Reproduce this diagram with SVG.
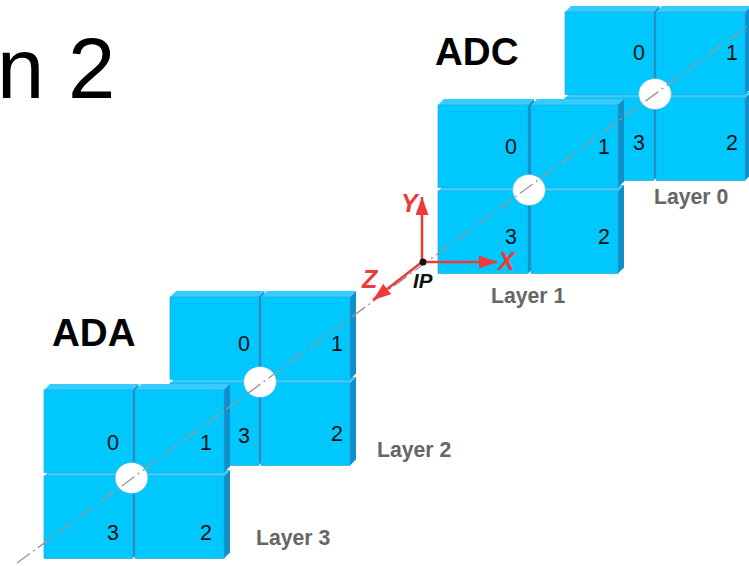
<svg xmlns="http://www.w3.org/2000/svg" xmlns:xlink="http://www.w3.org/1999/xlink" width="749" height="566" viewBox="0 0 749 566">
<style>
text{font-family:"Liberation Sans",Arial,sans-serif}
.front{fill:#00c8ff;stroke:#2aa6dc;stroke-width:.7}
.top{fill:#35ccff}
.side{fill:#1090c8}
.hole{fill:#fff;stroke:#1ba2dc;stroke-width:.5}
.n{font-size:21.500px;fill:#111;text-anchor:middle}
.lay{font-size:21.200px;font-weight:bold;fill:#666}
.big{font-size:38.600px;font-weight:bold;fill:#000}
.ax{font-size:25px;font-weight:bold;font-style:italic;fill:#ee3a3a}
.axl{stroke:#ee3a3a;stroke-width:2.500;fill:none}
.beam{stroke:#999;stroke-width:1.400;stroke-dasharray:16 4 2 4;fill:none}
</style>
<defs>
<g id="mL"><path class="top" d="M0 0L6-6H96L90 0Z"/><path class="side" d="M90 0L96-6V76.500L90 82.500Z"/><rect class="front" width="90" height="82.500"/></g>
<g id="mR"><path class="top" d="M0 0L6-6H93L87 0Z"/><path class="side" d="M87 0L93-6V76.500L87 82.500Z"/><rect class="front" width="87" height="82.500"/></g>
<g id="mL2"><path class="top" d="M0 0L6-6H94.500L88.500 0Z"/><path class="side" d="M88.500 0L94.500-6V76.500L88.500 82.500Z"/><rect class="front" width="88.500" height="82.500"/></g>
<g id="mR2"><path class="top" d="M0 0L6-6H95L89 0Z"/><path class="side" d="M89 0L95-6V76.500L89 82.500Z"/><rect class="front" width="89" height="82.500"/></g>
<g id="plane">
<use xlink:href="#mL" x="0" y="86"/><use xlink:href="#mR" x="93" y="86"/>
<use xlink:href="#mL" x="0" y="0"/><use xlink:href="#mR" x="93" y="0"/>
</g>
<g id="plane2">
<use xlink:href="#mL2" x="0" y="86"/><use xlink:href="#mR2" x="91" y="86"/>
<use xlink:href="#mL2" x="0" y="0"/><use xlink:href="#mR2" x="91" y="0"/>
</g>
<marker id="ah" markerUnits="userSpaceOnUse" markerWidth="19" markerHeight="13" refX="18" refY="6.500" orient="auto"><path d="M0 0L18 6.500L0 13Z" fill="#ee3a3a"/></marker>
</defs>
<text x="-3" y="98" font-size="85" fill="#000">n 2</text>
<g id="layer0"><use xlink:href="#plane2" x="565" y="12"/><ellipse class="hole" cx="655" cy="94" rx="16.500" ry="15.500"/>
<text class="n" x="639" y="60">0</text><text class="n" x="732" y="60">1</text><text class="n" x="732" y="150">2</text><text class="n" x="639" y="150">3</text><text class="lay" x="654" y="204">Layer 0</text></g>
<g id="layer1"><use xlink:href="#plane" x="438" y="105"/><ellipse class="hole" cx="529" cy="190" rx="16.500" ry="15.500"/>
<text class="n" x="511" y="154">0</text><text class="n" x="604" y="154">1</text><text class="n" x="604" y="244">2</text><text class="n" x="511" y="244">3</text><text class="lay" x="491" y="303">Layer 1</text></g>
<g id="layer2"><use xlink:href="#plane2" x="170" y="297"/><ellipse class="hole" cx="260" cy="382" rx="16.500" ry="15.500"/>
<text class="n" x="244" y="351">0</text><text class="n" x="337" y="351">1</text><text class="n" x="337" y="441">2</text><text class="n" x="244" y="443">3</text><text class="lay" x="377" y="457">Layer 2</text></g>
<g id="layer3"><use xlink:href="#plane2" x="44" y="390"/><ellipse class="hole" cx="131.500" cy="478" rx="16.500" ry="15.500"/>
<text class="n" x="113" y="450">0</text><text class="n" x="206" y="450">1</text><text class="n" x="206" y="540">2</text><text class="n" x="113" y="540">3</text><text class="lay" x="256" y="545">Layer 3</text></g>
<text class="big" x="435" y="65">ADC</text>
<text class="big" x="52" y="346">ADA</text>
<g id="connectors">
<path class="beam" d="M17 563L749 25"/>
<path class="axl" d="M422 262V197" marker-end="url(#ah)"/>
<path class="axl" d="M422 262H497" marker-end="url(#ah)"/>
<path class="axl" d="M422 262L373 300" marker-end="url(#ah)"/>
</g>
<g id="ip"><circle cx="423" cy="262" r="3.500" fill="#111"/><text x="413" y="288" font-size="20.500" font-weight="bold" font-style="italic" fill="#111">IP</text></g>
<text class="ax" x="401" y="212">Y</text><text class="ax" x="498" y="270">X</text><text class="ax" x="362" y="288">Z</text>
</svg>
